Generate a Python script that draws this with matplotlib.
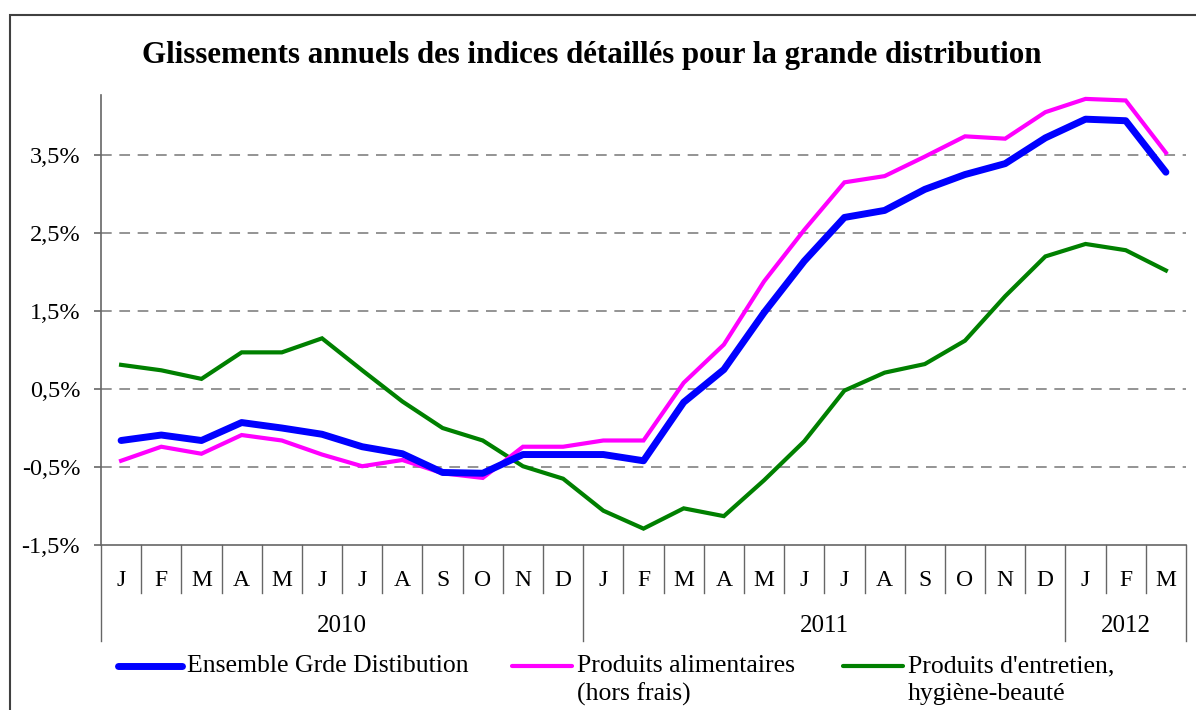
import matplotlib.pyplot as plt
from matplotlib.lines import Line2D
from matplotlib.patches import Rectangle
import matplotlib.transforms as mtransforms

plt.rcParams['font.family'] = ['Liberation Serif', 'DejaVu Serif']

# month letters, Jan 2010 .. Mar 2012
months = ['J', 'F', 'M', 'A', 'M', 'J', 'J', 'A', 'S', 'O', 'N', 'D',
          'J', 'F', 'M', 'A', 'M', 'J', 'J', 'A', 'S', 'O', 'N', 'D',
          'J', 'F', 'M']
years = ['2010', '2011', '2012']
year_spans = [(0, 12), (12, 24), (24, 27)]

ensemble = [-0.16, -0.09, -0.16, 0.07, 0.00, -0.08, -0.24, -0.33, -0.57, -0.58,
            -0.34, -0.34, -0.34, -0.42, 0.33, 0.75, 1.48, 2.14, 2.70, 2.79,
            3.06, 3.25, 3.39, 3.72, 3.96, 3.94, 3.28]
alimentaires = [-0.42, -0.24, -0.33, -0.09, -0.16, -0.34, -0.49, -0.41, -0.58, -0.64,
                -0.24, -0.24, -0.16, -0.16, 0.58, 1.07, 1.88, 2.54, 3.15, 3.23,
                3.48, 3.74, 3.71, 4.05, 4.22, 4.20, 3.53]
entretien = [0.81, 0.74, 0.63, 0.97, 0.97, 1.15, 0.74, 0.34, 0.00, -0.16,
             -0.49, -0.65, -1.06, -1.29, -1.03, -1.13, -0.67, -0.17, 0.48, 0.71,
             0.82, 1.12, 1.69, 2.20, 2.36, 2.28, 2.02]

yticks = [-1.5, -0.5, 0.5, 1.5, 2.5, 3.5]
ytick_labels = ['-1,5%', '-0,5%', '0,5%', '1,5%', '2,5%', '3,5%']

W, H = 1196, 710
fig = plt.figure(figsize=(W / 100, H / 100), dpi=100)
ax = fig.add_axes([101 / W, 1 - 545 / H, (1186 - 101) / W, (545 - 95) / H])

x = [i + 0.5 for i in range(len(months))]
ax.plot(x, entretien, color='#008000', lw=3.0, solid_joinstyle='miter', zorder=3)
ax.plot(x, alimentaires, color='#ff00ff', lw=3.0, solid_joinstyle='miter', zorder=4)
ax.plot(x, ensemble, color='#0000ff', lw=5.0, solid_capstyle='round', zorder=5)

ax.set_xlim(0, len(months))
ax.set_ylim(-1.5, 4.27)

axis_col = '#666666'
for s in ['top', 'right']:
    ax.spines[s].set_visible(False)
ax.spines['left'].set_color(axis_col)
ax.spines['bottom'].set_color(axis_col)
ax.spines['left'].set_linewidth(1.2)
ax.spines['bottom'].set_linewidth(1.2)

ax.set_yticks(yticks)
ax.set_yticklabels(ytick_labels, fontsize=17.5)
ax.tick_params(axis='y', length=5, color=axis_col, width=1.2, pad=10)
ax.set_xticks([])
for v in yticks[1:]:
    ax.axhline(v, color='#777777', lw=1.1, ls=(0, (7, 5)), zorder=1)

# category axis: month and year separators below the plot
trans = mtransforms.blended_transform_factory(ax.transData, ax.transAxes)
y_month = -(593 - 545) / 450
y_year = -(641 - 545) / 450
year_edges = {0, 12, 24, 27}
for k in range(len(months) + 1):
    bottom = y_year if k in year_edges else y_month
    ax.plot([k, k], [0, bottom], transform=trans, color=axis_col, lw=1.0,
            clip_on=False)
for i, m in enumerate(months):
    ax.text(i + 0.5, -(580 - 545) / 450, m, transform=trans, ha='center',
            va='center', fontsize=17)
for yr, (a, b) in zip(years, year_spans):
    ax.text((a + b) / 2, -(626 - 545) / 450, yr, transform=trans, ha='center',
            va='center', fontsize=18)

fig.text(592 / W, 1 - 55 / H,
         'Glissements annuels des indices détaillés pour la grande distribution',
         ha='center', va='center', fontsize=22.2, fontweight='bold')

# legend drawn by hand to keep the Excel layout
legend_items = [
    (118, 182, '#0000ff', 5.0, ['Ensemble Grde Distibution']),
    (512, 572, '#ff00ff', 3.0, ['Produits alimentaires', '(hors frais)']),
    (843, 903, '#008000', 3.0, ["Produits d'entretien,", 'hygiène-beauté']),
]
for x0, x1, col, lw, lines in legend_items:
    fig.add_artist(Line2D([x0 / W, x1 / W], [1 - 666 / H, 1 - 666 / H],
                          color=col, lw=lw, solid_capstyle='round'))
    for j, lab in enumerate(lines):
        fig.text((x1 + 5) / W, 1 - (666 + 28 * j) / H, lab, ha='left',
                 va='center', fontsize=18.5)

fig.add_artist(Rectangle((10 / W, -0.1), 1.2, 1 - 15 / H + 0.1,
                         transform=fig.transFigure, fill=False,
                         ec='#404040', lw=1.5, clip_on=False))

fig.savefig('out.png', dpi=100)
